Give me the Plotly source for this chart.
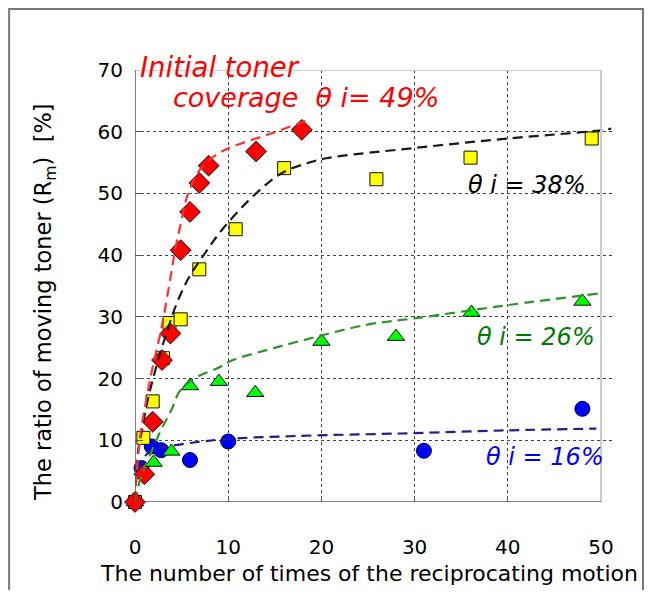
import plotly.graph_objects as go

red_x = [0, 1.0, 1.9, 2.9, 3.8, 4.9, 5.9, 6.9, 7.9, 13.0, 17.9]
red_y = [0, 4.5, 13.0, 23.0, 27.3, 40.8, 47.0, 51.7, 54.5, 56.8, 60.3]

yellow_x = [0, 0.9, 1.9, 3.0, 3.7, 4.9, 6.9, 10.8, 16.0, 25.9, 36.0, 49.0]
yellow_y = [0, 10.4, 16.3, 23.3, 29.0, 29.6, 37.7, 44.2, 54.1, 52.3, 55.8, 58.9]

green_x = [0, 2.0, 3.9, 5.9, 9.0, 12.9, 20.0, 28.0, 36.1, 48.0]
green_y = [0, 6.4, 8.2, 18.8, 19.5, 17.7, 26.0, 26.8, 30.7, 32.5]

blue_x = [0, 0.7, 1.8, 2.8, 5.9, 10.0, 31.0, 48.0]
blue_y = [0, 5.5, 9.0, 8.4, 6.8, 9.8, 8.3, 15.1]

# ---- fitted (dashed) curves ----
red_fit_x = [0, 0.3, 0.65, 1.2, 1.9, 2.8, 3.7, 4.3, 5.0, 5.7, 7.1, 9.3, 11.4, 14.6, 18.9]
red_fit_y = [0, 7.0, 11.7, 16.5, 21.9, 27.9, 35.4, 40.8, 45.7, 50.0, 54.1, 56.8, 58.1, 59.7, 62.1]

black_fit_x = [0, 0.3, 0.83, 1.36, 2.1, 2.8, 3.5, 4.3, 5.65, 7.5, 9.6, 13.2, 16.0, 18.7, 20.5, 30.2, 40.0, 49.8, 51.1]
black_fit_y = [0, 7.9, 12.2, 16.5, 20.9, 24.6, 27.9, 31.5, 36.0, 40.3, 44.6, 50.3, 53.5, 55.0, 55.7, 57.4, 58.9, 60.2, 60.5]

green_fit_x = [0, 0.65, 1.7, 2.8, 3.9, 4.9, 6.7, 8.9, 10.5, 14.1, 17.5, 24.8, 30.2, 40.0, 49.8]
green_fit_y = [0, 4.1, 7.9, 11.7, 14.9, 18.2, 20.3, 21.7, 23.0, 24.6, 26.0, 28.7, 29.8, 31.9, 33.8]

blue_fit_x = [0, 0.3, 1.0, 2.0, 3.5, 5.6, 9.8, 17.3, 28.4, 39.8, 49.5]
blue_fit_y = [0, 5.2, 7.3, 8.6, 9.0, 9.5, 10.2, 10.7, 11.1, 11.6, 11.9]

x_ticks = [0, 10, 20, 30, 40, 50]
y_ticks = [0, 10, 20, 30, 40, 50, 60, 70]

FONT = "DejaVu Sans"

# pixel geometry (page has an 8px body margin on every side, compensate)
OFF = 8
W, H = 653 - 2 * OFF, 598 - 2 * OFF
L, T = 135 - OFF, 70 - OFF
X_MAX = 51.5
PW = 480.5
PH = 432
R = W - L - PW
B = H - T - PH


def px(x):
    return (x - OFF - L) / PW


def py(y):
    return (T + PH - (y - OFF)) / PH


fig = go.Figure()

mk_line = dict(color="#111111", width=1)
fig.add_trace(go.Scatter(x=blue_x, y=blue_y, mode="markers", cliponaxis=False,
                         marker=dict(symbol="circle", size=15, color="#0000ff", line=dict(color="#000033", width=1))))
fig.add_trace(go.Scatter(x=green_x, y=green_y, mode="markers", cliponaxis=False,
                         marker=dict(symbol="triangle-up", size=15, color="#00ff00", line=mk_line)))
fig.add_trace(go.Scatter(x=yellow_x, y=yellow_y, mode="markers", cliponaxis=False,
                         marker=dict(symbol="square", size=13, color="#ffff00", line=mk_line)))
fig.add_trace(go.Scatter(x=red_x, y=red_y, mode="markers", cliponaxis=False,
                         marker=dict(symbol="diamond", size=16, color="#ff0000", line=mk_line)))

dash = "10px,6px"
fig.add_trace(go.Scatter(x=blue_fit_x, y=blue_fit_y, mode="lines", line=dict(color="#1f1f8f", width=2.2, dash=dash, shape="spline")))
fig.add_trace(go.Scatter(x=green_fit_x, y=green_fit_y, mode="lines", line=dict(color="#2a962a", width=2.2, dash=dash, shape="spline")))
fig.add_trace(go.Scatter(x=black_fit_x, y=black_fit_y, mode="lines", line=dict(color="#1a1a1a", width=2.2, dash=dash, shape="spline")))
fig.add_trace(go.Scatter(x=red_fit_x, y=red_fit_y, mode="lines", line=dict(color="#ff3030", width=2.2, dash=dash, shape="spline")))

axis_common = dict(showline=False, zeroline=False, showgrid=True,
                   gridcolor="#444444", griddash="dot", gridwidth=1.2,
                   tickfont=dict(family=FONT, size=20, color="#000000"),
                   ticks="inside", tickcolor="#555555")

fig.update_xaxes(range=[0, X_MAX], tickvals=x_ticks, ticklen=5,
                 ticklabelstandoff=31, **axis_common)
fig.update_yaxes(range=[0, 70], tickvals=y_ticks, ticklen=8,
                 ticklabelstandoff=11, **axis_common)

shapes = [
    # light gray top and right frame
    dict(type="line", xref="x", yref="y", x0=0, x1=50, y0=70, y1=70, line=dict(color="#cccccc", width=2), layer="above"),
    dict(type="line", xref="x", yref="y", x0=50, x1=50, y0=0, y1=70, line=dict(color="#cccccc", width=2), layer="above"),
    # dark axes
    dict(type="line", xref="x", yref="y", x0=0, x1=0, y0=0, y1=70, line=dict(color="#555555", width=1.5), layer="above"),
    dict(type="line", xref="x", yref="y", x0=0, x1=50, y0=0, y1=0, line=dict(color="#555555", width=1.5), layer="above"),
    # outer border
    dict(type="rect", xref="paper", yref="paper", x0=px(9), x1=px(643.5), y0=py(603), y1=py(9),
         line=dict(color="#777777", width=2), layer="below"),
]

ann_font = dict(family=FONT, size=24)
annotations = [
    dict(x=px(369), y=py(573), xref="paper", yref="paper", showarrow=False,
         text="The number of times of the reciprocating motion",
         font=dict(family=FONT, size=22, color="#000000"), xanchor="center", yanchor="middle"),
    dict(x=px(45), y=py(302), xref="paper", yref="paper", showarrow=False, textangle=-90,
         text="The ratio of moving toner (R<sub>m</sub>)  [%]",
         font=dict(family=FONT, size=22.5, color="#000000"), xanchor="center", yanchor="middle"),
    dict(x=px(138), y=py(67), xref="paper", yref="paper", showarrow=False,
         text="<i>Initial toner</i>", font=dict(family=FONT, size=27.5, color="#ff0000"),
         xanchor="left", yanchor="middle"),
    dict(x=px(171), y=py(97), xref="paper", yref="paper", showarrow=False,
         text="<i>coverage  θ i= 49%</i>", font=dict(family=FONT, size=27, color="#ff0000"),
         xanchor="left", yanchor="middle"),
    dict(x=px(466), y=py(185), xref="paper", yref="paper", showarrow=False,
         text="<i>θ i = 38%</i>", font=dict(ann_font, color="#000000"),
         xanchor="left", yanchor="middle"),
    dict(x=px(475), y=py(337), xref="paper", yref="paper", showarrow=False,
         text="<i>θ i = 26%</i>", font=dict(ann_font, color="#007a00"),
         xanchor="left", yanchor="middle"),
    dict(x=px(484), y=py(457), xref="paper", yref="paper", showarrow=False,
         text="<i>θ i = 16%</i>", font=dict(ann_font, color="#0000ff"),
         xanchor="left", yanchor="middle"),
]

fig.update_layout(
    width=W, height=H,
    margin=dict(l=L, r=R, t=T, b=B, autoexpand=False),
    paper_bgcolor="#ffffff", plot_bgcolor="#ffffff",
    showlegend=False,
    shapes=shapes,
    annotations=annotations,
    font=dict(family=FONT),
)

fig.write_html("out.html")
